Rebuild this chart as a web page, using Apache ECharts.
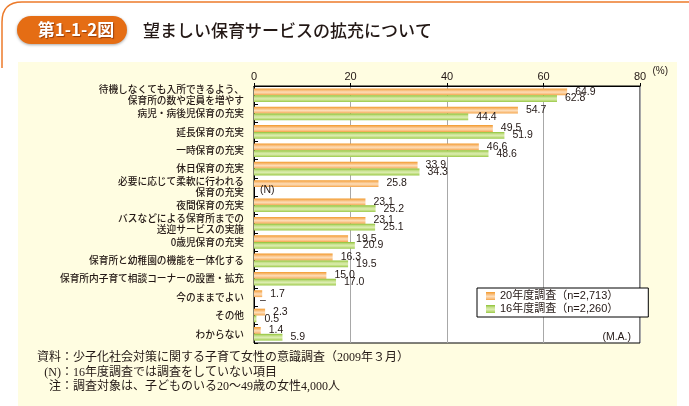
<!DOCTYPE html>
<html><head><meta charset="utf-8">
<script src="https://cdn.jsdelivr.net/npm/echarts@6/dist/echarts.min.js"></script>
<style>html,body{margin:0;padding:0;background:#fff}#c{width:689px;height:406px}</style>
</head><body><div id="c"></div>
<script>
// ---- data ----
const categories = [
  '待機しなくても入所できるよう、\n保育所の数や定員を増やす',
  '病児・病後児保育の充実',
  '延長保育の充実',
  '一時保育の充実',
  '休日保育の充実',
  '必要に応じて柔軟に行われる\n保育の充実',
  '夜間保育の充実',
  'バスなどによる保育所までの\n送迎サービスの実施',
  '0歳児保育の充実',
  '保育所と幼稚園の機能を一体化する',
  '保育所内子育て相談コーナーの設置・拡充',
  '今のままでよい',
  'その他',
  'わからない'
];
const survey20 = [64.9, 54.7, 49.5, 46.6, 33.9, 25.8, 23.1, 23.1, 19.5, 16.3, 15.0, 1.7, 2.3, 1.4];
const survey16 = [62.8, 44.4, 51.9, 48.6, 34.3, null, 25.2, 25.1, 20.9, 19.5, 17.0, null, 0.5, 5.9];
const survey16Marks = ['', '', '', '', '', '(N)', '', '', '', '', '', '–', '', ''];
const seriesNames = ['20年度調査（n=2,713）', '16年度調査（n=2,260）'];
const axisMin = 0, axisMax = 80, axisStep = 20;
const figNo = '第1-1-2図';
const figTitle = '望ましい保育サービスの拡充について';
const noteHeads = ['資料', '(N)', '注'];
const noteBodies = [
  '：少子化社会対策に関する子育て女性の意識調査（2009年３月）',
  '：16年度調査では調査をしていない項目',
  '：調査対象は、子どものいる20〜49歳の女性4,000人'
];

// ---- styles ----
const TXT = '#231815';
const CJK = "'Noto Sans CJK JP'";
const NUMF = "'Liberation Sans', 'Noto Sans CJK JP'";
function grad(stops) {
  return {type: 'linear', x: 0, y: 0, x2: 0, y2: 1, colorStops: stops};
}
const orangeGrad = grad([
  {offset: 0, color: '#F29A2C'}, {offset: 0.3, color: '#F9BE7C'},
  {offset: 0.55, color: '#FDDDB8'}, {offset: 0.8, color: '#FAC285'},
  {offset: 1, color: '#F4A447'}]);
const greenGrad = grad([
  {offset: 0, color: '#8CC232'}, {offset: 0.3, color: '#C6E08C'},
  {offset: 0.55, color: '#DCEDB0'}, {offset: 0.8, color: '#BCDB7A'},
  {offset: 1, color: '#99C948'}]);

const valueLabel = {
  show: true, position: 'right', distance: 8,
  color: TXT, fontFamily: NUMF, fontSize: 10.5,
  formatter: p => (p.value == null ? '' : Number(p.value).toFixed(1))
};

const data16 = survey16.map((v, i) => v == null
  ? {value: 0, label: {formatter: survey16Marks[i], distance: 6}}
  : v);

const chart = echarts.init(document.getElementById('c'), null, {renderer: 'canvas'});

const frameStyle = {stroke: '#EC7A2A', lineWidth: 1.5, fill: null};
const graphics = [
  {type: 'rect', z: -100, silent: true, shape: {x: 18, y: 62, width: 659, height: 344},
   style: {fill: '#FFFDE1'}},
  {type: 'line', z: -90, silent: true, shape: {x1: 2, y1: 68, x2: 2, y2: 22}, style: frameStyle},
  {type: 'bezierCurve', z: -90, silent: true,
   shape: {x1: 2, y1: 22, x2: 22, y2: 2, cpx1: 2, cpy1: 2}, style: frameStyle},
  {type: 'line', z: -90, silent: true, shape: {x1: 22, y1: 2, x2: 689, y2: 2}, style: frameStyle},
  {type: 'rect', shape: {x: 17, y: 16, width: 110, height: 28, r: 14},
   style: {fill: '#E56D14', shadowBlur: 3, shadowColor: 'rgba(0,0,0,0.35)', shadowOffsetY: 1}},
  {type: 'text', style: {x: 76, y: 30, text: figNo, fill: '#fff', font: "bold 17px 'Noto Sans CJK JP'",
   textAlign: 'center', textVerticalAlign: 'middle',
   textShadowColor: 'rgba(120,40,0,0.7)', textShadowBlur: 1, textShadowOffsetX: 1, textShadowOffsetY: 1}},
  {type: 'text', style: {x: 143, y: 31, text: figTitle, fill: TXT, font: "500 17px 'Noto Sans CJK JP'",
   textVerticalAlign: 'middle'}},
  {type: 'text', style: {x: 668, y: 71, text: '(%)', fill: TXT, font: "10px 'Liberation Sans'",
   textAlign: 'right', textVerticalAlign: 'middle'}},
  {type: 'text', style: {x: 631, y: 337, text: '(M.A.)', fill: TXT, font: "10.5px 'Liberation Sans'",
   textAlign: 'right', textVerticalAlign: 'middle'}}
];
noteHeads.forEach((h, i) => {
  const y = 358 + i * 14.5;
  graphics.push({type: 'text', style: {x: 61, y: y, text: h, fill: TXT,
    font: "12px 'Liberation Serif', 'Noto Sans CJK JP'", textAlign: 'right', textVerticalAlign: 'middle'}});
  graphics.push({type: 'text', style: {x: 61, y: y, text: noteBodies[i], fill: TXT,
    font: "12px 'Liberation Serif', 'Noto Sans CJK JP'", textAlign: 'left', textVerticalAlign: 'middle'}});
});

chart.setOption({
  animation: false,
  backgroundColor: '#fff',
  graphic: graphics,
  grid: {left: 254, right: 49, top: 86, bottom: 63, show: true, borderColor: '#000', borderWidth: 1,
    backgroundColor: '#fff', containLabel: false},
  legend: {
    orient: 'vertical', left: 477, top: 288,
    data: seriesNames, icon: 'rect', itemWidth: 9, itemHeight: 8, itemGap: 1,
    padding: [2, 30, 2, 9], borderColor: '#000', borderWidth: 1, backgroundColor: '#fff',
    textStyle: {color: TXT, fontFamily: NUMF, fontSize: 11, lineHeight: 12}
  },
  xAxis: {
    type: 'value', position: 'top', min: axisMin, max: axisMax, interval: axisStep,
    axisLine: {show: true, lineStyle: {color: '#000', width: 1}},
    axisTick: {show: true, length: 3, lineStyle: {color: '#000'}},
    axisLabel: {color: TXT, fontFamily: NUMF, fontSize: 11, margin: 4},
    splitLine: {show: true, lineStyle: {color: '#A8A8A8', width: 1}}
  },
  yAxis: {
    type: 'category', inverse: true, data: categories,
    axisLine: {show: true, lineStyle: {color: '#000', width: 1}},
    axisTick: {show: true, inside: true, length: 4, lineStyle: {color: '#000'}},
    axisLabel: {color: TXT, fontFamily: CJK, fontWeight: 500, fontSize: 9.7, lineHeight: 11, margin: 10},
    splitLine: {show: false}
  },
  series: [
    {name: seriesNames[0], type: 'bar', data: survey20, barWidth: 6.8, barGap: '0%',
     itemStyle: {color: orangeGrad}, label: valueLabel},
    {name: seriesNames[1], type: 'bar', data: data16, barWidth: 6.8, barGap: '0%',
     itemStyle: {color: greenGrad}, label: valueLabel}
  ]
});
</script></body></html>
